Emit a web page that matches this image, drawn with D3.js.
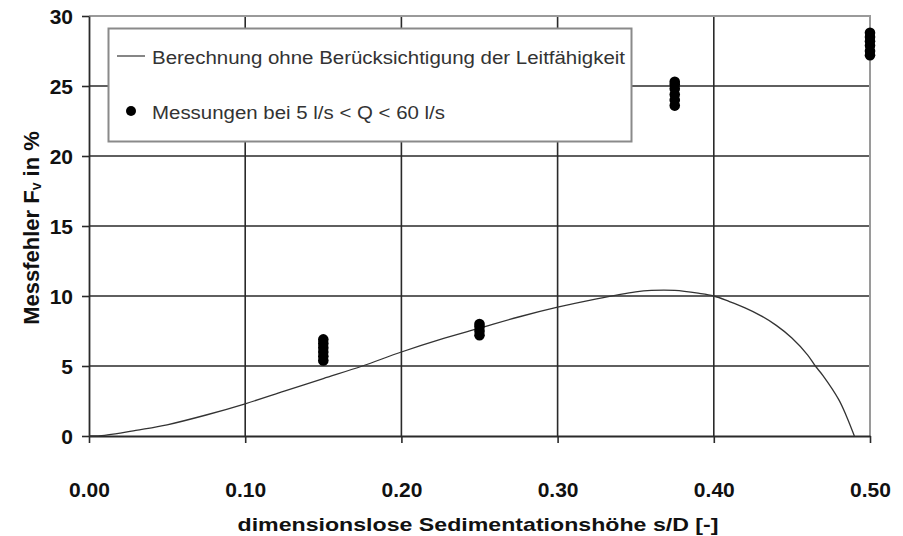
<!DOCTYPE html>
<html>
<head>
<meta charset="utf-8">
<script src="https://cdn.jsdelivr.net/npm/d3@7"></script>
<style>
  html, body { margin: 0; padding: 0; background: #fff; }
  svg { display: block; font-family: "Liberation Sans", Arial, sans-serif; }
</style>
</head>
<body>
<svg id="chart" width="903" height="536"></svg>
<script>
// Theoretical curve: measurement error without conductivity correction
const curveX = [0.00, 0.01, 0.02, 0.03, 0.05, 0.075, 0.10, 0.125, 0.15, 0.175, 0.20, 0.225, 0.25, 0.275, 0.30, 0.325, 0.35, 0.36, 0.375, 0.39, 0.40, 0.41, 0.42, 0.43, 0.44, 0.45, 0.46, 0.465, 0.47, 0.48, 0.485, 0.49];
const curveY = [0.0, 0.05, 0.2, 0.4, 0.8, 1.5, 2.3, 3.2, 4.1, 5.0, 6.0, 6.9, 7.7, 8.5, 9.2, 9.8, 10.3, 10.4, 10.4, 10.2, 10.0, 9.6, 9.15, 8.6, 7.9, 7.0, 5.8, 5.0, 4.3, 2.6, 1.4, 0.0];

// Measurements at 5 l/s < Q < 60 l/s
const measX = [0.15, 0.15, 0.15, 0.15, 0.15, 0.15,
               0.25, 0.25, 0.25, 0.25,
               0.375, 0.375, 0.375, 0.375, 0.375, 0.375,
               0.50, 0.50, 0.50, 0.50, 0.50, 0.50];
const measY = [5.4, 5.7, 6.0, 6.3, 6.6, 6.9,
               7.2, 7.5, 7.8, 8.0,
               23.6, 24.0, 24.4, 24.8, 25.1, 25.3,
               27.2, 27.5, 27.9, 28.2, 28.5, 28.8];

const xTicks = [0.00, 0.10, 0.20, 0.30, 0.40, 0.50];
const yTicks = [0, 5, 10, 15, 20, 25, 30];

const legendLabels = ["Berechnung ohne Berücksichtigung der Leitfähigkeit", "Messungen bei 5 l/s < Q < 60 l/s"];
const xTitle = "dimensionslose Sedimentationshöhe s/D [-]";

const svg = d3.select("#chart");
const x = d3.scaleLinear().domain([0, 0.5]).range([89, 870]);
const y = d3.scaleLinear().domain([0, 30]).range([436, 16]);

// Grid
const grid = svg.append("g");
grid.selectAll("line.v").data(xTicks.filter(d => d > 0 && d < 0.5)).join("line")
  .attr("x1", d => x(d)).attr("x2", d => x(d)).attr("y1", y(30)).attr("y2", y(0))
  .attr("stroke", "#2a2a2a").attr("stroke-width", 1.6);
grid.selectAll("line.h").data(yTicks.filter(d => d > 0 && d < 30)).join("line")
  .attr("x1", x(0)).attr("x2", x(0.5)).attr("y1", d => y(d)).attr("y2", d => y(d))
  .attr("stroke", "#2a2a2a").attr("stroke-width", 1.6);
// Top and right frame
svg.append("path")
  .attr("d", `M${x(0)},${y(30)}H${x(0.5)}V${y(0)}`)
  .attr("fill", "none").attr("stroke", "#9a9a9a").attr("stroke-width", 2);

// Axes
const xAxis = svg.append("g").attr("transform", `translate(0,${y(0)})`)
  .call(d3.axisBottom(x).tickValues(xTicks).tickFormat(d3.format(".2f")).tickSize(7).tickSizeOuter(0));
const yAxis = svg.append("g").attr("transform", `translate(${x(0)},0)`)
  .call(d3.axisLeft(y).tickValues(yTicks).tickFormat(d3.format("d")).tickSize(7).tickSizeOuter(0));
[xAxis, yAxis].forEach(a => {
  a.select(".domain").attr("stroke", "#2a2a2a").attr("stroke-width", 1.8);
  a.selectAll(".tick line").attr("stroke", "#2a2a2a").attr("stroke-width", 1.6);
  a.selectAll("text").attr("fill", "#111").attr("font-size", 21).attr("font-weight", "bold")
    .attr("font-family", "'Liberation Sans', Arial, sans-serif");
});
xAxis.selectAll("text").attr("dy", null).attr("y", 53).attr("dominant-baseline", "central");
yAxis.selectAll("text").attr("x", -16).attr("dy", null).attr("dominant-baseline", "central");

// Theoretical curve
const line = d3.line().x((d, i) => x(curveX[i])).y(d => y(d)).curve(d3.curveCatmullRom.alpha(0.5));
svg.append("path").datum(curveY).attr("d", line)
  .attr("fill", "none").attr("stroke", "#333").attr("stroke-width", 1.3);

// Measurements
svg.append("g").selectAll("circle").data(measY).join("circle")
  .attr("cx", (d, i) => x(measX[i])).attr("cy", d => y(d)).attr("r", 5.3)
  .attr("fill", "#000");

// Legend
const lg = svg.append("g");
lg.append("rect").attr("x", 108.5).attr("y", 28.5).attr("width", 523).attr("height", 113)
  .attr("fill", "#fff").attr("stroke", "#8a8a8a").attr("stroke-width", 2);
lg.append("line").attr("x1", 117).attr("x2", 145).attr("y1", 56).attr("y2", 56)
  .attr("stroke", "#444").attr("stroke-width", 1.3);
lg.append("circle").attr("cx", 131).attr("cy", 111).attr("r", 5).attr("fill", "#000");
lg.selectAll("text").data(legendLabels).join("text")
  .attr("x", 152).attr("y", (d, i) => i === 0 ? 58 : 113)
  .attr("dominant-baseline", "central")
  .attr("font-size", 18).attr("fill", "#333")
  .attr("textLength", (d, i) => i === 0 ? 473 : 293).attr("lengthAdjust", "spacingAndGlyphs")
  .text(d => d);

// Axis titles
svg.append("text").attr("x", 478).attr("y", 524).attr("text-anchor", "middle")
  .attr("dominant-baseline", "central").attr("font-size", 19).attr("font-weight", "bold")
  .attr("fill", "#111").attr("textLength", 481).attr("lengthAdjust", "spacingAndGlyphs")
  .text(xTitle);

const yt = svg.append("text").attr("transform", "translate(31,228) rotate(-90)")
  .attr("text-anchor", "middle").attr("dominant-baseline", "central")
  .attr("font-size", 22).attr("font-weight", "bold").attr("fill", "#111");
yt.append("tspan").text("Messfehler F");
yt.append("tspan").attr("font-size", 14).attr("dy", 5).text("v");
yt.append("tspan").attr("dy", -5).text(" in %");
</script>
</body>
</html>
